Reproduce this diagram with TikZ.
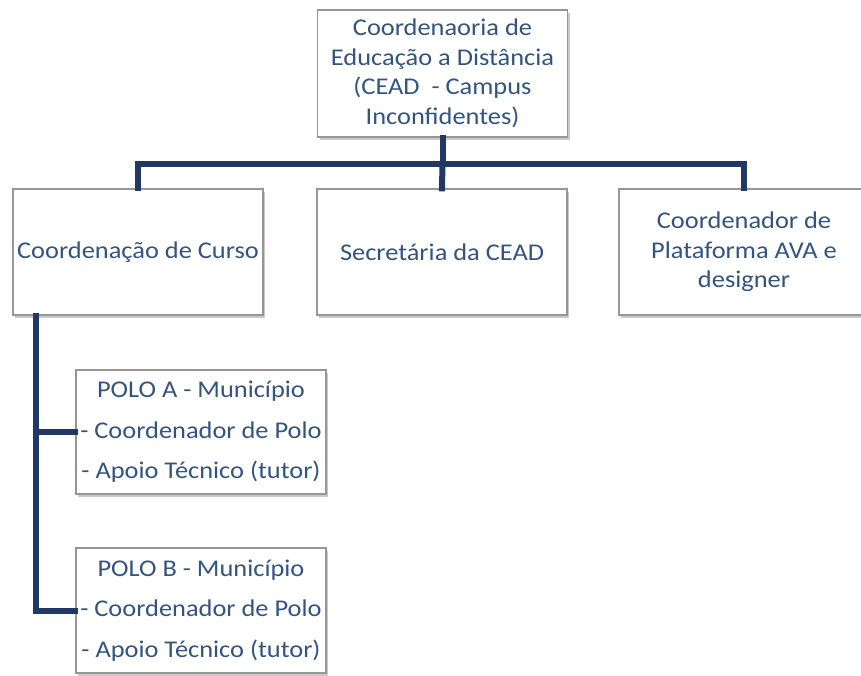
\documentclass[tikz,border=0pt]{standalone}
\usepackage{fontspec}
\setmainfont{Carlito}[FakeStretch=1.1]
\usetikzlibrary{shadows,calc}
\definecolor{txt}{RGB}{52,84,128}
\definecolor{conn}{RGB}{31,57,100}
\definecolor{bord}{RGB}{150,150,150}
\tikzset{
  box/.style={draw=bord, line width=1.2pt, fill=white, minimum width=250pt,
    text=txt, align=center, font=\fontsize{24}{29.5}\selectfont, inner sep=0pt,
    drop shadow={shadow xshift=2pt, shadow yshift=-2.5pt, opacity=0.35, fill=black!60}},
  conn/.style={draw=conn, line width=6pt, line cap=rect}
}
\begin{document}
\begin{tikzpicture}[x=1pt,y=-1pt]
\useasboundingbox (0,0) rectangle (861,675);
\node[box, minimum height=127pt] (top) at (442.5,73.5)
  {Coordenaoria de\\Educação a Distância\\(CEAD\ \ - Campus\\Inconfidentes)};
\node[box, minimum height=126pt] (cc) at (138,252) {Coordenação de Curso};
\node[box, minimum height=126pt] (sec) at (442,252) {Secretária da CEAD};
\node[box, minimum height=126pt] (plat) at (744,252) {Coordenador de\\Plataforma AVA e\\designer};
\node[box, minimum height=124pt] (pa) at (201,432)
  {POLO A - Município\\[11pt]- Coordenador de Polo\\[11pt]- Apoio Técnico (tutor)};
\node[box, minimum height=125pt] (pb) at (201,610.5)
  {POLO B - Município\\[11pt]- Coordenador de Polo\\[11pt]- Apoio Técnico (tutor)};
\coordinate (j) at ($(top.south)+(0,26)$);
\draw[conn] (top.south) -- (j);
\draw[conn] (cc.north) |- (j) -| (plat.north);
\draw[conn] (j) -- (sec.north);
\coordinate (lv) at ($(cc.south west)+(24,0)$);
\draw[conn] (lv) |- (pb.west);
\draw[conn] (lv |- pa.west) -- (pa.west);
\end{tikzpicture}
\end{document}
